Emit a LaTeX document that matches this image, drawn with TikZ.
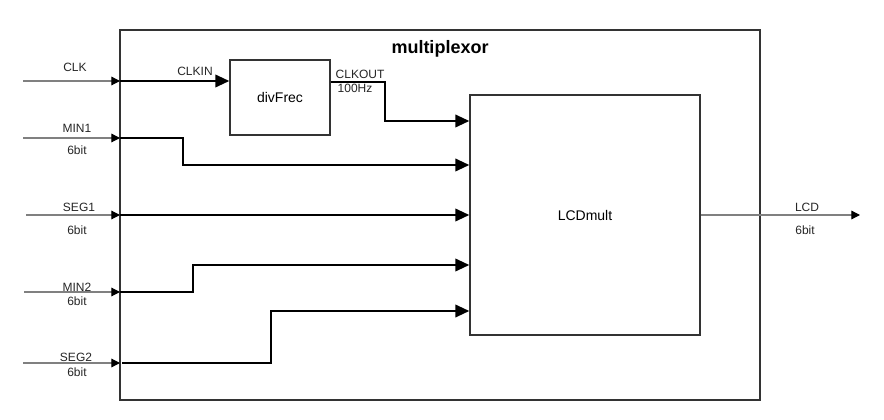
\documentclass[tikz,border=0pt]{standalone}
\usepackage{fontspec}
\setmainfont{Liberation Sans}
\usetikzlibrary{arrows.meta}
\begin{document}
\begin{tikzpicture}[x=0.75pt,y=-0.75pt,
  box/.style={draw=black!80,line width=1.1pt,inner sep=0pt,fill=white},
  lbl/.style={font=\fontsize{9}{10}\selectfont,inner sep=0pt,text=black!85},
  inwire/.style={draw=black!50,line width=0.9pt,-{Triangle[length=6.5pt,width=6.5pt,color=black]}},
  sig/.style={draw=black,line width=1.4pt,-{Triangle[length=10.5pt,width=9.5pt]}},
  sigplain/.style={draw=black,line width=1.4pt}]
\useasboundingbox (0,0) rectangle (884,420);
\fill[white] (0,0) rectangle (884,420);
% boxes
\node[box,minimum width=480pt,minimum height=277.5pt] (mux) at (440,215) {};
\node[font=\bfseries\fontsize{13.5}{15}\selectfont,inner sep=0pt] (title) at (440,49) {multiplexor};
\node[box,minimum width=75pt,minimum height=56.25pt,font=\fontsize{10.5}{12}\selectfont] (div) at (280,97.5) {divFrec};
\node[box,minimum width=172.5pt,minimum height=180pt,font=\fontsize{10.5}{12}\selectfont] (lcd) at (585,215) {LCDmult};
% coordinates
\coordinate (clkS) at (23,81);   \coordinate (clkE) at (120,81);
\coordinate (m1S) at (23,138);   \coordinate (m1E) at (120,138);
\coordinate (s1S) at (26,215);   \coordinate (s1E) at (120,215);
\coordinate (m2S) at (24,292);   \coordinate (m2E) at (120,292);
\coordinate (s2S) at (23,363);   \coordinate (s2E) at (120,363);
\coordinate (outE) at (860,215);
% input wires
\draw[inwire] (clkS) -- (clkE);
\draw[inwire] (m1S) -- (m1E);
\draw[inwire] (s1S) -- (s1E);
\draw[inwire] (m2S) -- (m2E);
\draw[inwire] (s2S) -- (s2E);
% input labels
\node[lbl] (lclk) at (75,67) {CLK};
\node[lbl] (lm1) at (77,128) {MIN1};
\node[lbl] (lm1b) at (77,150) {6bit};
\node[lbl] (ls1) at (79,207) {SEG1};
\node[lbl] (ls1b) at (77,230) {6bit};
\node[lbl] (lm2) at (77,287) {MIN2};
\node[lbl] (lm2b) at (77,301) {6bit};
\node[lbl] (ls2) at (76,357) {SEG2};
\node[lbl] (ls2b) at (77,372) {6bit};
% internal signals
\draw[sig] (clkE) -- (div.west |- clkE);
\node[lbl] (lclkin) at (195,71) {CLKIN};
\draw[sig] (div.east |- 0,82) -- (385,82) -- (385,121) -- (lcd.west |- 0,121);
\node[lbl] (lclkout) at (360,74) {CLKOUT};
\node[lbl] (l100) at (355,88) {100Hz};
\draw[sig] (m1E) -- (183,138) -- (183,165) -- (lcd.west |- 0,165);
\draw[sig] (s1E) -- (lcd.west |- s1E);
\draw[sig] (m2E) -- (193,292) -- (193,265) -- (lcd.west |- 0,265);
\draw[sig] (122,363) -- (271,363) -- (271,311) -- (lcd.west |- 0,311);
% output
\draw[inwire] (lcd.east) -- (outE);
\node[lbl] (llcd) at (807,207) {LCD};
\node[lbl] (llcdb) at (805,230) {6bit};
\end{tikzpicture}
\end{document}
